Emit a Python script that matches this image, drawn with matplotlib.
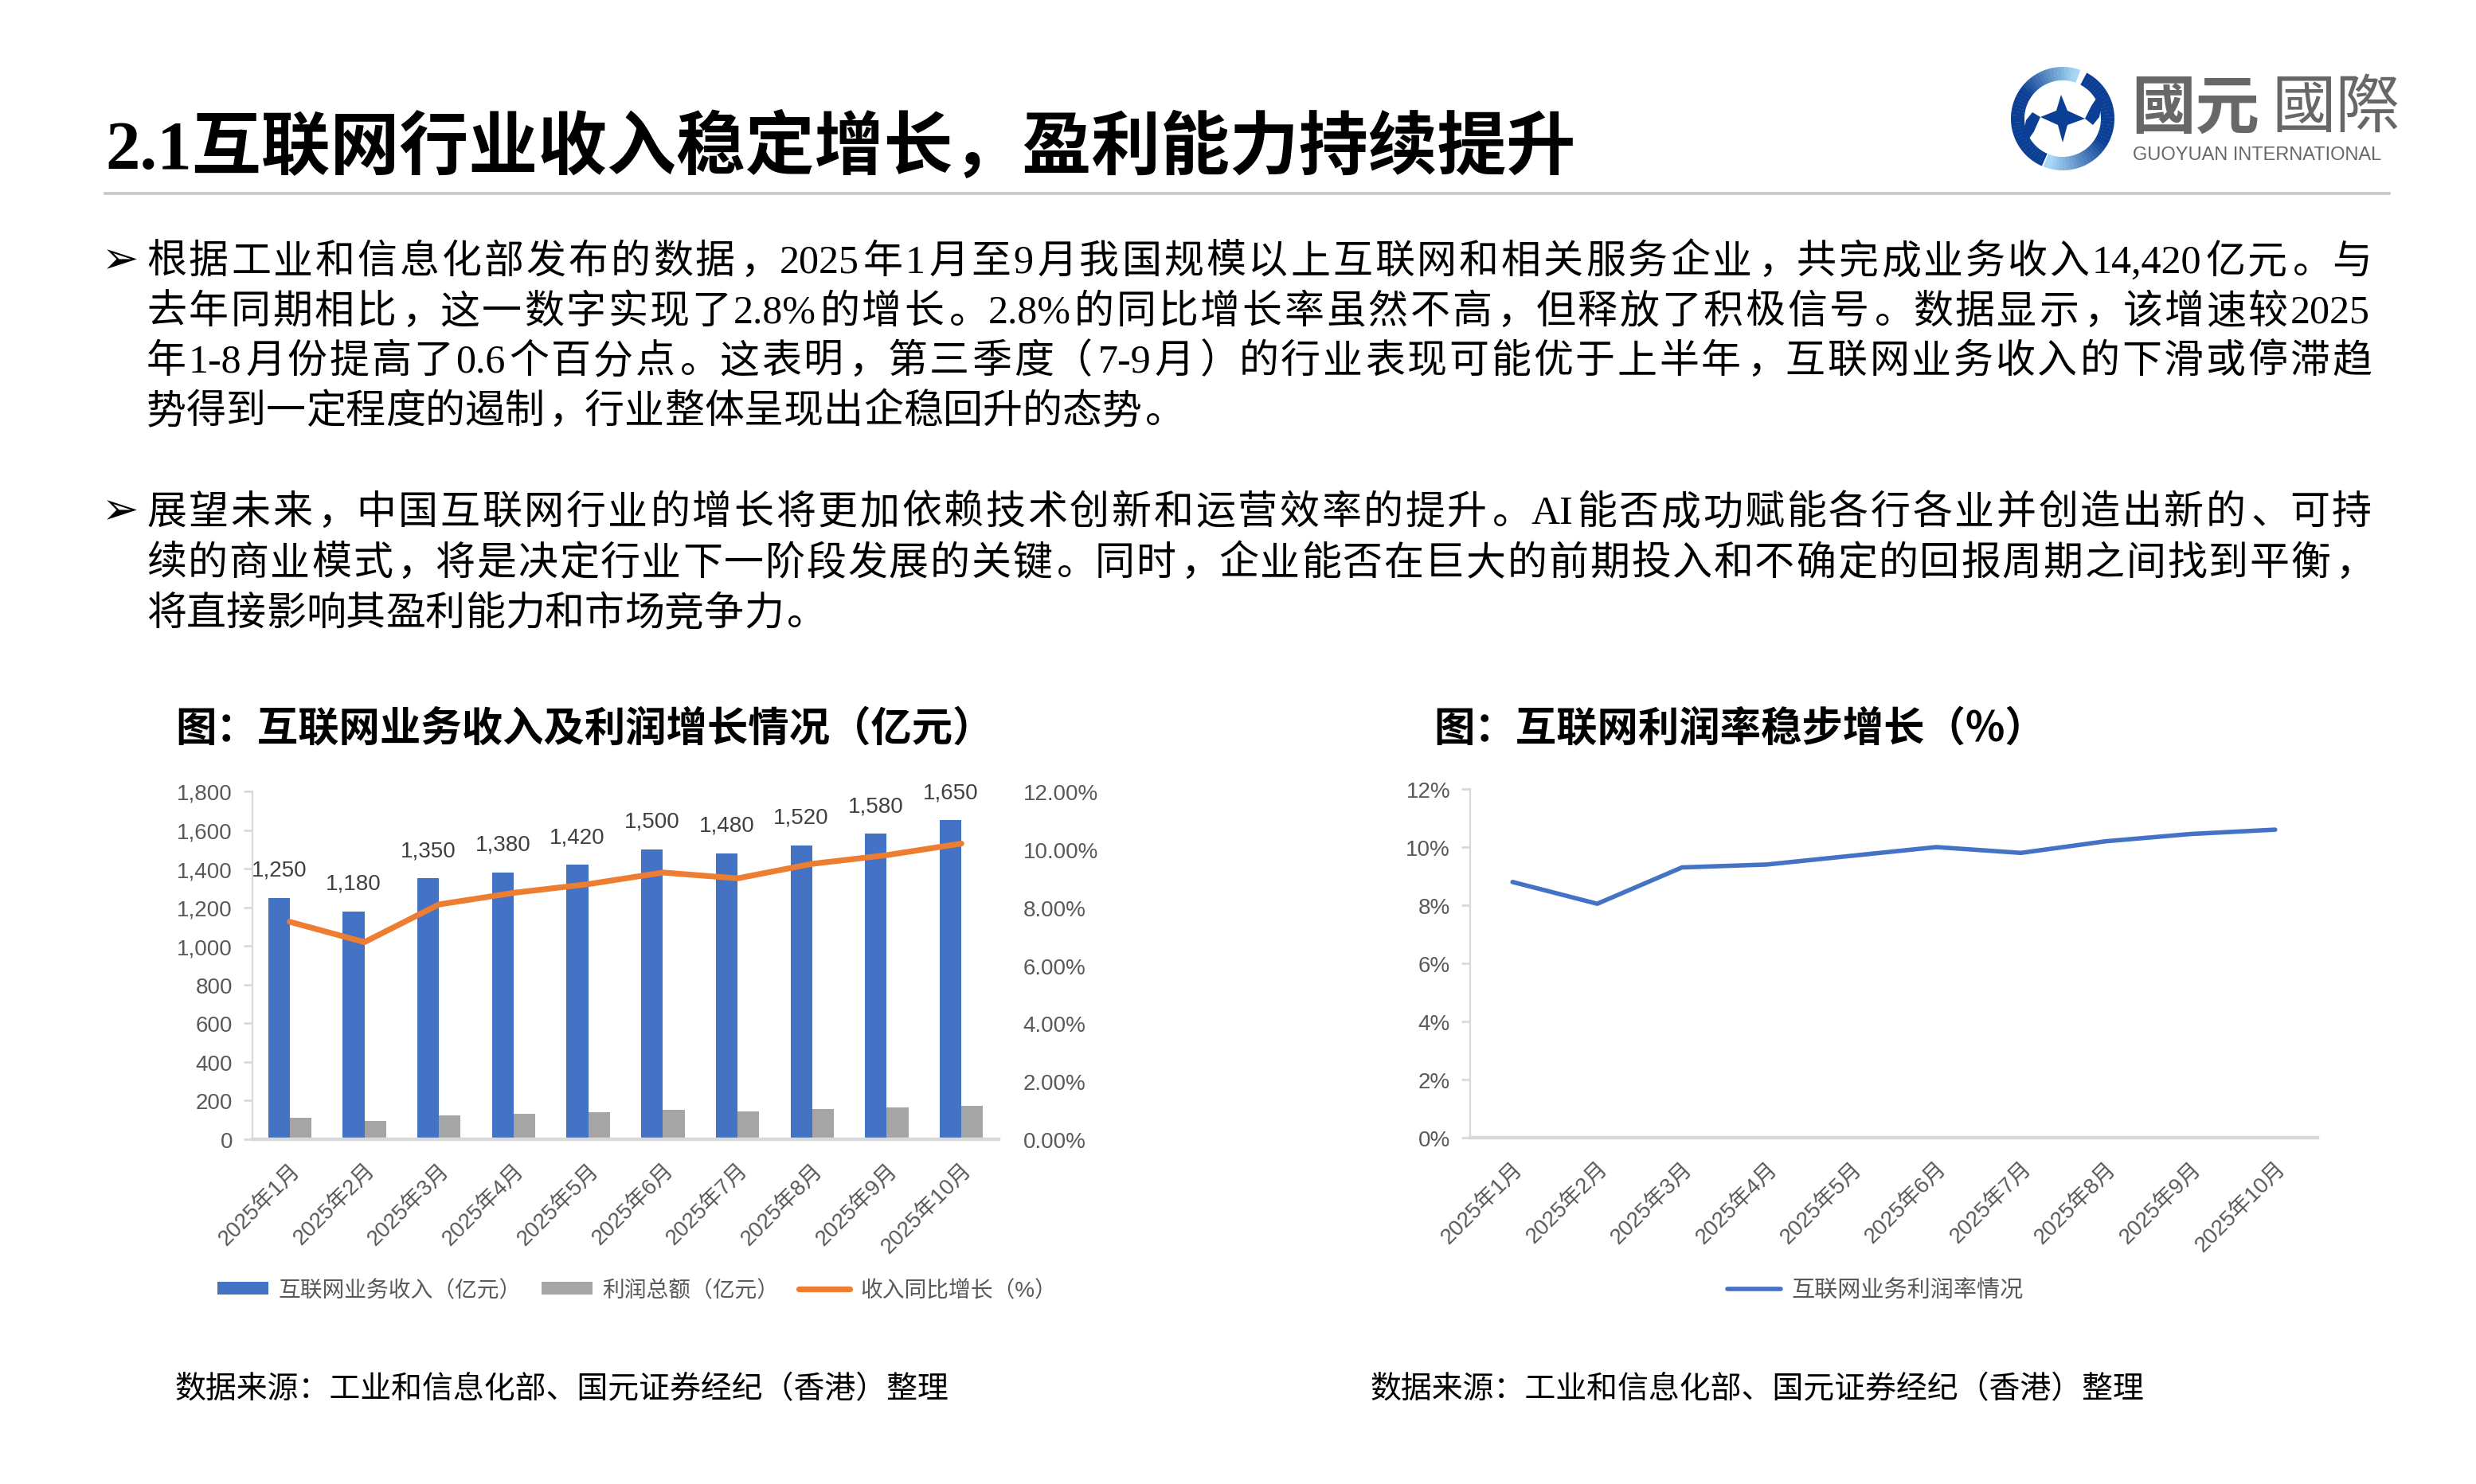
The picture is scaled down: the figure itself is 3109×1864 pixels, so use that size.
import matplotlib
matplotlib.use('Agg')
import matplotlib.pyplot as plt
from matplotlib.lines import Line2D
from matplotlib.patches import Patch, Wedge, Polygon
import matplotlib.colors as mcolors
import numpy as np

W, H, DPI = 3109, 1865, 200
CJK = 'Noto Sans CJK SC'
SERIF = ['Liberation Serif', CJK, 'DejaVu Sans']
SANS = ['Liberation Sans', CJK, 'DejaVu Sans']
plt.rcParams['font.family'] = SANS

BLUE = '#4472C4'
GRAY = '#A5A5A5'
ORANGE = '#ED7D31'
TICK_C = '#595959'
AX_C = '#D9D9D9'

# ---------------- data ----------------
months = ['2025年1月', '2025年2月', '2025年3月', '2025年4月', '2025年5月',
          '2025年6月', '2025年7月', '2025年8月', '2025年9月', '2025年10月']
revenue = [1250, 1180, 1350, 1380, 1420, 1500, 1480, 1520, 1580, 1650]
profit = [110, 95, 125, 132, 140, 151, 144, 155, 165, 174]
revenue_growth = [7.5, 6.8, 8.1, 8.5, 8.8, 9.2, 9.0, 9.5, 9.8, 10.2]
profit_margin = [8.8, 8.05, 9.3, 9.4, 9.7, 10.0, 9.8, 10.2, 10.45, 10.6]

rev_ticks = [0, 200, 400, 600, 800, 1000, 1200, 1400, 1600, 1800]
growth_ticks = [0, 2, 4, 6, 8, 10, 12]
margin_ticks = [0, 2, 4, 6, 8, 10, 12]

legend_left = ['互联网业务收入（亿元）', '利润总额（亿元）', '收入同比增长（%）']
legend_right = ['互联网业务利润率情况']

title = '2.1互联网行业收入稳定增长，盈利能力持续提升'
para1 = ['根据工业和信息化部发布的数据，2025年1月至9月我国规模以上互联网和相关服务企业，共完成业务收入14,420亿元。与',
         '去年同期相比，这一数字实现了2.8%的增长。2.8%的同比增长率虽然不高，但释放了积极信号。数据显示，该增速较2025',
         '年1-8月份提高了0.6个百分点。这表明，第三季度（7-9月）的行业表现可能优于上半年，互联网业务收入的下滑或停滞趋',
         '势得到一定程度的遏制，行业整体呈现出企稳回升的态势。']
para2 = ['展望未来，中国互联网行业的增长将更加依赖技术创新和运营效率的提升。AI能否成功赋能各行各业并创造出新的、可持',
         '续的商业模式，将是决定行业下一阶段发展的关键。同时，企业能否在巨大的前期投入和不确定的回报周期之间找到平衡，',
         '将直接影响其盈利能力和市场竞争力。']
chart_title_left = '图：互联网业务收入及利润增长情况（亿元）'
chart_title_right = '图：互联网利润率稳步增长（%）'
source = '数据来源：工业和信息化部、国元证券经纪（香港）整理'

fig = plt.figure(figsize=(W / DPI, H / DPI), dpi=DPI)
fig.patch.set_facecolor('white')


def fx(px):
    return px / W


def fy(py):
    return 1 - py / H


# ---------------- header ----------------
fig.text(fx(132), fy(187), title, fontsize=31.3, fontweight='bold', family=SERIF,
         ha='left', va='center', color='black')
fig.add_artist(Line2D([fx(132), fx(3000)], [fy(244), fy(244)], color='#C8C8C8', lw=1.3))

# logo
lax = fig.add_axes([fx(2520), fy(220), 140 / W, 140 / H])
lax.set_xlim(-70, 70)
lax.set_ylim(-70, 70)
lax.axis('off')
light = np.array(mcolors.to_rgb('#A6D7F4'))
dark = np.array(mcolors.to_rgb('#0B3F95'))


def seg(a0, a1, f, n=40):
    angs = np.linspace(a0, a1, n + 1)
    for i in range(n):
        t = f((angs[i] + angs[i + 1]) / 2)
        c = light * (1 - t) + dark * t
        lax.add_patch(Wedge((0, 0), 65, angs[i], angs[i + 1] + 0.3, width=17, color=c, lw=0))


seg(70, 246, lambda a: float(np.clip((a - 75) / 70, 0, 1)))
seg(-112, 62, lambda a: float(np.clip((a + 105) / 75, 0, 1)))
lax.add_patch(Polygon([(-2, 30), (6, 10), (28, 0), (6, -8), (0, -30), (-6, -8), (-28, 2), (-8, 10)],
                      closed=True, color='#0B3F95', lw=0))
lax.add_patch(Polygon([(-50, -22), (-44, -28), (-36, -16), (-28, 2), (-38, 8), (-46, -2)],
                      closed=True, color='#0B3F95', lw=0))
lax.add_patch(Polygon([(50, 22), (44, 28), (36, 16), (28, 0), (38, -8), (46, 2)],
                      closed=True, color='#0B3F95', lw=0))
fig.text(fx(2676), fy(137), '國元', fontsize=29, fontweight='bold', color='#676767',
         family=['Noto Sans CJK TC'], ha='left', va='center')
fig.text(fx(2852), fy(137), '國際', fontsize=29, fontweight='light', color='#676767',
         family=['Noto Sans CJK TC'], ha='left', va='center')
fig.text(fx(2678), fy(195), 'GUOYUAN INTERNATIONAL', fontsize=8.5, color='#676767',
         family=['Liberation Sans'], ha='left', va='center')

# ---------------- body text ----------------
BODY = 18
EM = BODY * DPI / 72
renderer = fig.canvas.get_renderer()


def tokenize(s):
    toks, buf = [], ''
    for c in s:
        if ord(c) < 128:
            buf += c
        else:
            if buf:
                toks.append(buf)
                buf = ''
            toks.append(c)
    if buf:
        toks.append(buf)
    return toks


def draw_line(s, x0, x1, yc, justify):
    yb = yc + 0.36 * EM
    toks = tokenize(s)
    objs = []
    widths = []
    for t in toks:
        o = fig.text(0, fy(yb), t, fontsize=BODY, family=SERIF, ha='left', va='baseline', color='black')
        objs.append(o)
        if ord(t[0]) < 128:
            widths.append(o.get_window_extent(renderer).width + 0.04 * EM)
        else:
            widths.append(EM)
    total = sum(widths)
    gap = (x1 - x0 - total) / (len(toks) - 1) if justify else 0.0
    x = x0
    for t, o, w in zip(toks, objs, widths):
        if ord(t[0]) < 128:
            o.set_x(fx(x))
        elif t in '，。、：；':
            o.set_x(fx(x + 0.08 * EM))
        elif t == '（':
            o.set_ha('right')
            o.set_x(fx(x + w - 0.08 * EM))
        elif t == '）':
            o.set_x(fx(x + 0.08 * EM))
        else:
            o.set_ha('center')
            o.set_x(fx(x + w / 2))
        x += w + gap


def paragraph(lines, ys):
    fig.text(fx(128), fy(ys[0] + 0.36 * EM), '➢', fontsize=BODY + 2, family=['DejaVu Sans'],
             ha='left', va='baseline', color='black')
    for i, (ln, y) in enumerate(zip(lines, ys)):
        draw_line(ln, 184, 2978, y, justify=(i < len(lines) - 1))


paragraph(para1, [325, 388, 450, 513])
paragraph(para2, [640, 704, 767])

# ---------------- chart titles & sources ----------------
fig.text(fx(220), fy(915), chart_title_left, fontsize=18.5, fontweight='bold', family=[CJK],
         ha='left', va='center', color='black')
fig.text(fx(1800), fy(915), chart_title_right, fontsize=18.5, fontweight='bold', family=[CJK],
         ha='left', va='center', color='black')
fig.text(fx(220), fy(1745), source, fontsize=14, family=[CJK], ha='left', va='center', color='black')
fig.text(fx(1720), fy(1745), source, fontsize=14, family=[CJK], ha='left', va='center', color='black')

# ---------------- left chart ----------------
x = np.arange(len(months))
bw = 0.29
ax1 = fig.add_axes([fx(317), fy(1432), (1254 - 317) / W, (1432 - 995) / H])
ax1.bar(x - bw / 2, revenue, bw, color=BLUE, zorder=2)
ax1.bar(x + bw / 2, profit, bw, color=GRAY, zorder=2)
for xi, v in zip(x, revenue):
    ax1.annotate(f'{v:,}', (xi - bw / 2, v), xytext=(0, 8), textcoords='offset points',
                 ha='center', va='bottom', fontsize=10, color='#404040')
ax1.set_xlim(-0.5, len(months) - 0.5)
ax1.set_ylim(0, 1800)
ax1.set_yticks(rev_ticks)
ax1.set_yticklabels([f'{v:,}' for v in rev_ticks])
ax1.set_xticks(x)
ax1.set_xticklabels(months, rotation=45, ha='right', rotation_mode='anchor')
ax1.tick_params(axis='x', length=0, pad=9, labelsize=10, labelcolor=TICK_C)
ax1.tick_params(axis='y', length=4, width=1, color=AX_C, pad=5, labelsize=10, labelcolor=TICK_C)
for s in ['top', 'right']:
    ax1.spines[s].set_visible(False)
ax1.spines['left'].set_color(AX_C)
ax1.spines['bottom'].set_color(AX_C)
ax1.spines['bottom'].set_linewidth(1.6)

ax2 = ax1.twinx()
ax2.plot(x, revenue_growth, color=ORANGE, lw=2.6, zorder=3, solid_capstyle='round')
ax2.set_ylim(0, 12)
ax2.set_yticks(growth_ticks)
ax2.set_yticklabels([f'{v:.2f}%' for v in growth_ticks])
ax2.tick_params(axis='y', length=0, pad=11, labelsize=10, labelcolor=TICK_C)
for s in ax2.spines.values():
    s.set_visible(False)

handles_l = [Patch(facecolor=BLUE, edgecolor='none'), Patch(facecolor=GRAY, edgecolor='none'),
             Line2D([], [], color=ORANGE, lw=2.6, solid_capstyle='round')]
fig.legend(handles_l, legend_left, loc='center', bbox_to_anchor=(fx(800), fy(1622)), ncol=3,
           frameon=False, fontsize=10, handlelength=2.3, handleheight=0.5, handletextpad=0.45,
           columnspacing=0.9, labelcolor=TICK_C)

# ---------------- right chart ----------------
ax3 = fig.add_axes([fx(1846), fy(1430), (2910 - 1846) / W, (1430 - 992) / H])
ax3.plot(x, profit_margin, color=BLUE, lw=2.0, solid_capstyle='round')
ax3.set_xlim(-0.5, len(months) - 0.5)
ax3.set_ylim(0, 12)
ax3.set_yticks(margin_ticks)
ax3.set_yticklabels([f'{v}%' for v in margin_ticks])
ax3.set_xticks(x)
ax3.set_xticklabels(months, rotation=45, ha='right', rotation_mode='anchor')
ax3.tick_params(axis='x', length=0, pad=9, labelsize=10, labelcolor=TICK_C)
ax3.tick_params(axis='y', length=4, width=1, color=AX_C, pad=5, labelsize=10, labelcolor=TICK_C)
for s in ['top', 'right']:
    ax3.spines[s].set_visible(False)
ax3.spines['left'].set_color(AX_C)
ax3.spines['bottom'].set_color(AX_C)
ax3.spines['bottom'].set_linewidth(1.6)

fig.legend([Line2D([], [], color=BLUE, lw=2.0, solid_capstyle='round')], legend_right, loc='center',
           bbox_to_anchor=(fx(2355), fy(1622)), frameon=False, fontsize=10.5, handlelength=2.3,
           handletextpad=0.45, labelcolor=TICK_C)

fig.savefig('out.png', dpi=DPI, facecolor='white')
